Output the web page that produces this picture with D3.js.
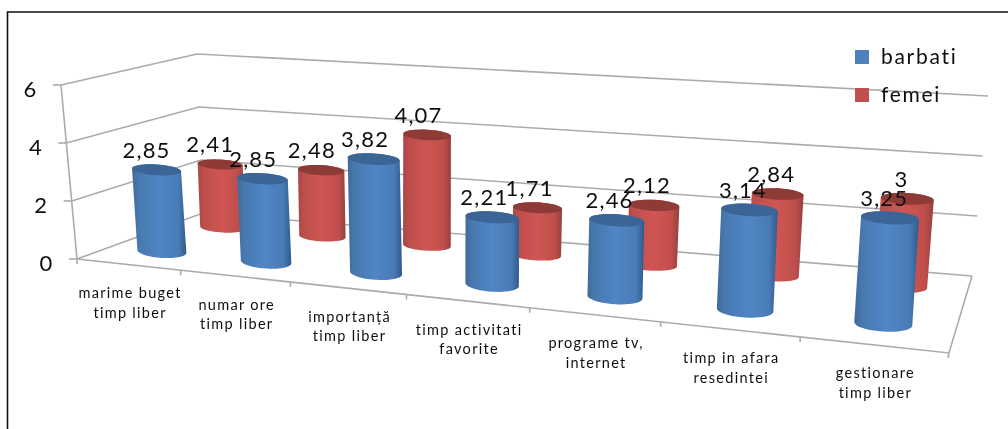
<!DOCTYPE html>
<html><head><meta charset="utf-8">
<script src="https://cdn.jsdelivr.net/npm/d3@7/dist/d3.min.js"></script>
<style>html,body{margin:0;padding:0;background:#fff;overflow:hidden}svg{display:block}text{font-family:Lato,"Noto Sans",sans-serif;fill:#111}</style>
</head><body><svg id="c" width="1008" height="429"></svg>
<script>
const categories=[["marime buget","timp liber"],["numar ore","timp liber"],["importanță","timp liber"],["timp activitati","favorite"],["programe tv,","internet"],["timp in afara","resedintei"],["gestionare","timp liber"]];
const barbati=[2.85,2.85,3.82,2.21,2.46,3.14,3.25];
const femei=[2.41,2.48,4.07,1.71,2.12,2.84,3];
const seriesNames=["barbati","femei"];
const valueTicks=[0,2,4,6];
const decimal=v=>String(v).replace(".",",");

// perspective frame of the 3D box (floor and ceiling quads)
const floorQuad=[[77,259],[949,353],[972,276],[203,213]];
const ceilQuad=[[61,85],[963,148],[988,96],[197,54]];
function homography(q){
  const [p0,p1,p2,p3]=q;
  const dx1=p1[0]-p2[0],dy1=p1[1]-p2[1],dx2=p3[0]-p2[0],dy2=p3[1]-p2[1];
  const sx=p0[0]-p1[0]+p2[0]-p3[0],sy=p0[1]-p1[1]+p2[1]-p3[1];
  const d=dx1*dy2-dy1*dx2;
  const g=(sx*dy2-sy*dx2)/d,h=(dx1*sy-dy1*sx)/d;
  const a=p1[0]-p0[0]+g*p1[0],b=p3[0]-p0[0]+h*p3[0],e=p1[1]-p0[1]+g*p1[1],f=p3[1]-p0[1]+h*p3[1];
  return (u,v)=>{const w=g*u+h*v+1;return [(a*u+b*v+p0[0])/w,(e*u+f*v+p0[1])/w];};
}
const Hf=homography(floorQuad),Hc=homography(ceilQuad);
const warp=u=>{const c=1.134;return c*u/(1-u+c*u);};
const yScale=d3.scaleLinear().domain([0,6]).range([0,1]);
const band=d3.scaleBand().domain(d3.range(categories.length)).range([0,1]);
function P(u,v,val){
  const w=warp(u),a=Hf(w,v),b=Hc(w,v),t=yScale(val);
  return [a[0]+(b[0]-a[0])*t,a[1]+(b[1]-a[1])*t];
}
const svg=d3.select("#c");
const defs=svg.append("defs");
defs.append("filter").attr("id","soft").append("feGaussianBlur").attr("stdDeviation",0.5);
function grad(id,stops){
  const g=defs.append("linearGradient").attr("id",id);
  stops.forEach(s=>g.append("stop").attr("offset",s[0]).attr("stop-color",s[1]));
}
grad("gB",[[0,"#3f6a9c"],[.12,"#4878ae"],[.5,"#5086c6"],[.85,"#4a7cb6"],[1,"#2f5a8c"]]);
grad("gR",[[0,"#a84543"],[.12,"#bd4f4c"],[.5,"#cf5553"],[.85,"#c04f4c"],[1,"#93403d"]]);

// outer frame
svg.append("path").attr("d","M1008,12H7.5V429").attr("fill","none").attr("stroke","#111").attr("stroke-width",1.6);

const root=svg.append("g").attr("filter","url(#soft)");
const gridG=root.append("g").attr("fill","none").attr("stroke","#ababab").attr("stroke-width",1.6);
const line=d3.line();
valueTicks.forEach(t=>{
  gridG.append("path").attr("d",line([P(0,0,t),P(0,1,t),P(1,1,t)]));
  const f=P(0,0,t);
  gridG.append("path").attr("d",line([[f[0]-8,f[1]],f]));
  root.append("text").attr("x",f[0]-31).attr("y",f[1]+12).attr("text-anchor","middle").attr("font-size",22).text(t);
});
gridG.append("path").attr("d",line([P(0,0,6),P(0,0,0),P(1,0,0),P(1,1,0)]));
d3.range(categories.length+1).forEach(i=>{
  const p=P(i/categories.length,0,0);
  gridG.append("path").attr("d",line([p,[p[0]+(i==categories.length?-1:0),p[1]+5]]));
});

// category labels
categories.forEach((c,i)=>{
  const p=P(band(i)+band.bandwidth()/2,0,0);
  c.forEach((s,j)=>root.append("text").attr("x",p[0]+2).attr("y",p[1]+33.5+j*19.7).attr("text-anchor","middle")
    .attr("font-size",14.5).attr("letter-spacing",1.3).attr("fill","#222").text(s));
});

function ellipse(c,a,ry){
  return d3.range(0,48).map(k=>{const t=k/48*2*Math.PI;return [c[0]+a[0]*Math.cos(t),c[1]+a[1]*Math.cos(t)+ry*Math.sin(t)];});
}
const rxBlue=d3.scaleLinear().domain([0,6]).range([24.5,29]);
const rxRed=d3.scaleLinear().domain([0,6]).range([22.5,26.5]);
function cylinder(g,i,val,v,rx,depth,botRy,fill,topFill){
  const uc=band(i)+band.bandwidth()/2;
  const c0=P(uc,v,0),c1=P(uc,v,val*depth);
  const e0=P(uc+.02,v,0);
  const tilt=0.6*(e0[1]-c0[1])/(e0[0]-c0[0]);
  const a=[rx,rx*tilt];
  const bot=ellipse(c0,a,rx*botRy),top=ellipse(c1,a,rx*.22);
  g.append("path").attr("d",line(d3.polygonHull(bot.concat(top)))+"Z").attr("fill",fill);
  g.append("path").attr("d",line(top)+"Z").attr("fill",topFill);
  return c1;
}
const vBlue=0.25,vRed=0.75;
const marks=root.append("g");
const labels=[];
femei.forEach((d,i)=>{labels.push([cylinder(marks,i,d,vRed,rxRed(i),.96,.22,"url(#gR)","#8e3b39"),d,i]);});
barbati.forEach((d,i)=>{labels.push([cylinder(marks,i,d,vBlue,rxBlue(i),1,.27,"url(#gB)","#3a6597"),d,i]);});
labels.forEach(([c,d,i])=>{
  root.append("text").attr("x",c[0]-10+i*.7).attr("y",c[1]-12).attr("text-anchor","middle")
    .attr("font-size",22).attr("letter-spacing",1.2).text(decimal(d));
});

// legend
const legendX=855,legendY=[50,88],colors=["#4f81bd","#c0504d"];
seriesNames.forEach((s,i)=>{
  root.append("rect").attr("x",legendX).attr("y",legendY[i]).attr("width",14).attr("height",14).attr("fill",colors[i]);
  root.append("text").attr("x",legendX+26).attr("y",legendY[i]+13.5).attr("font-size",21).attr("letter-spacing",1.7).text(s);
});
</script></body></html>
